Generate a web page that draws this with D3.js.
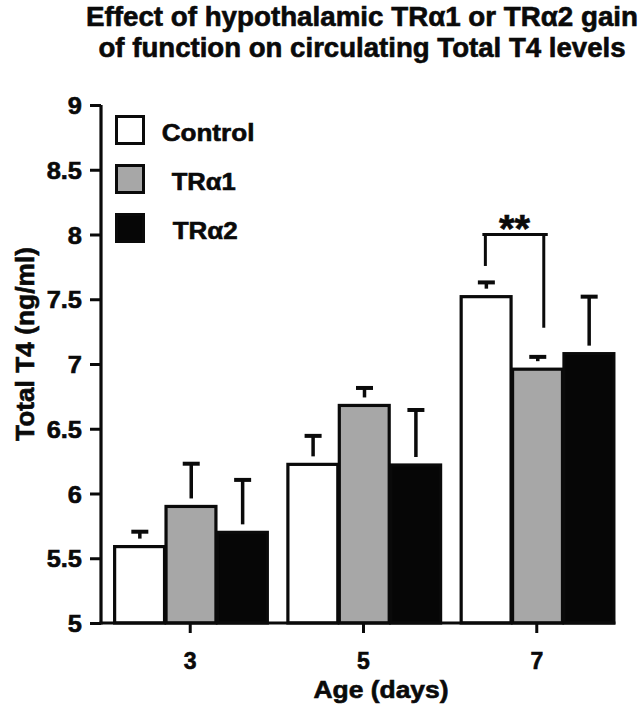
<!DOCTYPE html>
<html>
<head>
<meta charset="utf-8">
<script src="https://cdn.jsdelivr.net/npm/d3@7"></script>
<style>
  body { margin: 0; background: #fff; }
  svg { display: block; }
  text { font-family: "Liberation Sans", Arial, sans-serif; font-weight: bold; fill: #0a0a0a; stroke: #0a0a0a; stroke-width: 0.6px; }
</style>
</head>
<body>
<svg id="chart" width="644" height="711"></svg>
<script>
// ---- data ----
const ages = ['3', '5', '7'];
const seriesNames = ['Control', 'TRα1', 'TRα2'];
const controlValues = [5.59, 6.225, 7.52];
const tra1Values = [5.90, 6.68, 6.96];
const tra2Values = [5.70, 6.22, 7.08];
const controlErr = [0.115, 0.22, 0.11];
const tra1Err = [0.33, 0.135, 0.095];
const tra2Err = [0.405, 0.425, 0.44];
const yTicks = [5, 5.5, 6, 6.5, 7, 7.5, 8, 8.5, 9];
const yTickLabels = ['5', '5.5', '6', '6.5', '7', '7.5', '8', '8.5', '9'];
const sigLabel = '**';
const sigBracket = { age: '7', from: 'Control', to: 'TRα1', top: 8.0, leftEnd: 7.757, rightEnd: 7.28 };
const titleLines = ['Effect of hypothalamic TRα1 or TRα2 gain', 'of function on circulating Total T4 levels'];
const xTitle = 'Age (days)';
const yTitle = 'Total T4 (ng/ml)';

const fills = { 'Control': '#ffffff', 'TRα1': '#a7a7a7', 'TRα2': '#060606' };
const valuesBySeries = { 'Control': controlValues, 'TRα1': tra1Values, 'TRα2': tra2Values };
const errBySeries = { 'Control': controlErr, 'TRα1': tra1Err, 'TRα2': tra2Err };

const rows = [];
ages.forEach((a, i) => seriesNames.forEach(s => rows.push({ age: a, series: s, value: valuesBySeries[s][i], err: errBySeries[s][i] })));

const svg = d3.select('#chart');
const ink = '#0a0a0a';

// ---- scales ----
const axisX = 101, baseY = 623;
const x0 = d3.scaleBand().domain(ages).range([axisX, 626]).paddingInner(0.11).paddingOuter(0.07);
const x1 = d3.scaleBand().domain(seriesNames).range([0, x0.bandwidth()]).padding(0);
const y = d3.scaleLinear().domain([5, 9]).range([baseY, 105]);

// ---- title ----
function fitText(sel, len) { sel.attr('textLength', len).attr('lengthAdjust', 'spacingAndGlyphs'); }
svg.append('text').attr('x', 362).attr('y', 26).attr('text-anchor', 'middle').attr('font-size', 27)
  .text(titleLines[0]).call(fitText, 552);
svg.append('text').attr('x', 362).attr('y', 56.7).attr('text-anchor', 'middle').attr('font-size', 27)
  .text(titleLines[1]).call(fitText, 527);

// ---- bars ----
const g = svg.append('g');
g.selectAll('rect.bar').data(rows).join('rect')
  .attr('class', 'bar')
  .attr('x', d => x0(d.age) + x1(d.series) + 1.5)
  .attr('width', x1.bandwidth() - 1.5)
  .attr('y', d => y(d.value))
  .attr('height', d => baseY - y(d.value))
  .attr('fill', d => fills[d.series])
  .attr('stroke', ink).attr('stroke-width', 3.2);

// ---- error bars (upper only) ----
const gap = 8;
const eb = g.selectAll('g.err').data(rows).join('g').attr('class', 'err')
  .attr('transform', d => `translate(${x0(d.age) + x1(d.series) + x1.bandwidth() / 2 + 1}, 0)`);
eb.append('line').attr('x1', 0).attr('x2', 0)
  .attr('y1', d => y(d.value + d.err)).attr('y2', d => y(d.value) - gap)
  .attr('stroke', ink).attr('stroke-width', 3.5);
eb.append('line').attr('x1', -8.5).attr('x2', 8.5)
  .attr('y1', d => y(d.value + d.err)).attr('y2', d => y(d.value + d.err))
  .attr('stroke', ink).attr('stroke-width', 4);

// ---- axes ----
const yAxis = d3.axisLeft(y).tickValues(yTicks).tickFormat((d, i) => yTickLabels[i]).tickSize(11).tickSizeOuter(0).tickPadding(8);
const ya = svg.append('g').attr('transform', `translate(${axisX},0)`).call(yAxis);
ya.select('.domain').remove();
ya.selectAll('.tick line').attr('stroke', ink).attr('stroke-width', 3);
ya.selectAll('.tick text').attr('font-size', 24).attr('font-family', '"Liberation Sans", Arial, sans-serif')
  .attr('font-weight', 'bold').attr('fill', ink).attr('dy', '0.36em')
  .each(function () { d3.select(this).attr('textLength', this.getComputedTextLength() * 1.06).attr('lengthAdjust', 'spacingAndGlyphs'); });
svg.append('line').attr('x1', axisX).attr('x2', axisX).attr('y1', y(9)).attr('y2', baseY + 1.5)
  .attr('stroke', ink).attr('stroke-width', 3.2);

const xAxis = d3.axisBottom(x0).tickSize(10).tickPadding(20).tickSizeOuter(0);
const xa = svg.append('g').attr('transform', `translate(0,${baseY})`).call(xAxis);
xa.select('.domain').remove();
xa.selectAll('.tick line').attr('stroke', ink).attr('stroke-width', 3);
xa.selectAll('.tick text').attr('font-size', 23).attr('font-family', '"Liberation Sans", Arial, sans-serif')
  .attr('font-weight', 'bold').attr('fill', ink);
svg.append('line').attr('x1', axisX - 1.5).attr('x2', x0(ages[ages.length - 1]) + x0.bandwidth() + 1.5)
  .attr('y1', baseY).attr('y2', baseY).attr('stroke', ink).attr('stroke-width', 3.2);

// ---- axis titles ----
svg.append('text').attr('x', 381).attr('y', 698).attr('text-anchor', 'middle').attr('font-size', 23.5)
  .text(xTitle).call(fitText, 135);
svg.append('text').attr('transform', 'translate(34,344) rotate(-90)').attr('text-anchor', 'middle').attr('font-size', 25)
  .text(yTitle).call(fitText, 194);

// ---- legend ----
const legendTop = [115, 164, 213];
const legendTextX = [161.7, 171.7, 172.7];
const legendTextW = [92.7, 64, 65];
const lg = svg.append('g');
seriesNames.forEach((s, i) => {
  lg.append('rect').attr('x', 116.5).attr('y', legendTop[i] + 1.5).attr('width', 27).attr('height', 27)
    .attr('fill', fills[s]).attr('stroke', ink).attr('stroke-width', 3);
  lg.append('text').attr('x', legendTextX[i]).attr('y', legendTop[i] + 26).attr('font-size', 23.5)
    .text(s).call(fitText, legendTextW[i]);
});

// ---- significance bracket ----
const cx = s => x0(sigBracket.age) + x1(s) + x1.bandwidth() / 2;
const bx1 = cx(sigBracket.from), bx2 = cx(sigBracket.to) + 7;
const bg = svg.append('g').attr('stroke', ink).attr('stroke-width', 3).attr('fill', 'none');
bg.append('line').attr('x1', bx1 - 3).attr('x2', bx2 + 4).attr('y1', y(sigBracket.top)).attr('y2', y(sigBracket.top));
bg.append('line').attr('x1', bx1).attr('x2', bx1).attr('y1', y(sigBracket.top)).attr('y2', y(sigBracket.leftEnd));
bg.append('line').attr('x1', bx2).attr('x2', bx2).attr('y1', y(sigBracket.top)).attr('y2', y(sigBracket.rightEnd));
svg.append('text').attr('x', (bx1 + bx2) / 2).attr('y', y(sigBracket.top) + 7).attr('text-anchor', 'middle')
  .attr('font-size', 38).text(sigLabel).call(fitText, 31);
</script>
</body>
</html>
